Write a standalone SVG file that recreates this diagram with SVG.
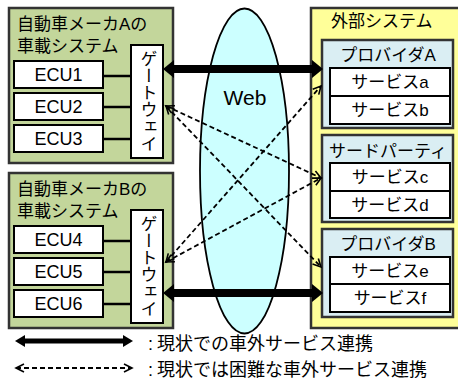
<svg xmlns="http://www.w3.org/2000/svg" width="458" height="381" viewBox="0 0 458 381">
<defs>
<style>
text{font-family:"Liberation Sans","Noto Sans CJK JP",sans-serif;fill:#000}
.car{fill:#c3d69b;stroke:#333;stroke-width:2.5}
.ext{fill:#ffff99;stroke:#333;stroke-width:2.5}
.prov{fill:#daeef3;stroke:#333;stroke-width:2.5}
.box{fill:#fff;stroke:#000;stroke-width:2}
.t17{font-size:17px}
.t18{font-size:18px}
.mid{text-anchor:middle}
.link{stroke:#000;stroke-width:2.5}
.thick{stroke:#000;stroke-width:8;fill:none}
.thin{stroke:#000;stroke-width:5;fill:none}
.dash{stroke:#000;stroke-width:1.8;stroke-dasharray:5,3;fill:none}
</style>
<marker id="th" markerUnits="userSpaceOnUse" markerWidth="11" markerHeight="18" refX="0" refY="9" orient="auto-start-reverse" overflow="visible">
<path d="M0,0 L11,9 L0,18 z" fill="#000"/>
</marker>
<marker id="th2" markerUnits="userSpaceOnUse" markerWidth="10" markerHeight="12" refX="0" refY="6" orient="auto-start-reverse" overflow="visible">
<path d="M0,0 L10,6 L0,12 z" fill="#000"/>
</marker>
<marker id="op" markerUnits="userSpaceOnUse" markerWidth="10" markerHeight="10" refX="8" refY="4" orient="auto-start-reverse" overflow="visible">
<path d="M0,0 L8,4 L0,8" fill="none" stroke="#000" stroke-width="1.6"/>
</marker>
</defs>

<g id="carA">
<rect class="car" x="9" y="8" width="164" height="155"/>
<text class="t17" x="17" y="30">自動車メーカAの</text>
<text class="t17" x="17" y="52">車載システム</text>
</g>
<g id="ecu1"><rect class="box" x="14" y="61" width="89" height="27"/><text class="t18 mid" x="58.5" y="81">ECU1</text></g>
<g id="ecu2"><rect class="box" x="14" y="93" width="89" height="27"/><text class="t18 mid" x="58.5" y="113">ECU2</text></g>
<g id="ecu3"><rect class="box" x="14" y="125" width="89" height="27"/><text class="t18 mid" x="58.5" y="145">ECU3</text></g>
<g id="gwA"><rect class="box" x="131" y="45" width="32" height="113"/><text class="t17" x="147" y="50" writing-mode="vertical-rl">ゲートウェイ</text></g>

<g id="carB">
<rect class="car" x="9" y="173" width="164" height="155"/>
<text class="t17" x="17" y="195">自動車メーカBの</text>
<text class="t17" x="17" y="217">車載システム</text>
</g>
<g id="ecu4"><rect class="box" x="14" y="226" width="89" height="27"/><text class="t18 mid" x="58.5" y="246">ECU4</text></g>
<g id="ecu5"><rect class="box" x="14" y="258" width="89" height="27"/><text class="t18 mid" x="58.5" y="278">ECU5</text></g>
<g id="ecu6"><rect class="box" x="14" y="290" width="89" height="27"/><text class="t18 mid" x="58.5" y="310">ECU6</text></g>
<g id="gwB"><rect class="box" x="131" y="210" width="32" height="113"/><text class="t17" x="147" y="215" writing-mode="vertical-rl">ゲートウェイ</text></g>

<g id="web">
<ellipse cx="244.5" cy="171" rx="44.5" ry="162.5" fill="#ccffff" stroke="#000" stroke-width="1.8"/>
<text x="245" y="105" class="mid" style="font-size:21px">Web</text>
</g>

<g id="external">
<rect class="ext" x="311" y="8" width="150" height="320"/>
<text class="t17" x="331" y="27">外部システム</text>
</g>
<g id="provA">
<rect class="prov" x="322" y="40" width="131" height="88"/>
<text class="t17 mid" x="388" y="61">プロバイダA</text>
<rect class="box" x="330" y="68" width="120" height="28"/><text class="t17 mid" x="390" y="88">サービスa</text>
<rect class="box" x="330" y="96" width="120" height="28"/><text class="t17 mid" x="390" y="116">サービスb</text>
</g>
<g id="third">
<rect class="prov" x="322" y="135" width="131" height="87"/>
<text class="t17 mid" x="388" y="157">サードパーティ</text>
<rect class="box" x="330" y="163" width="120" height="28"/><text class="t17 mid" x="390" y="183">サービスc</text>
<rect class="box" x="330" y="191" width="120" height="27"/><text class="t17 mid" x="390" y="211">サービスd</text>
</g>
<g id="provB">
<rect class="prov" x="322" y="229" width="131" height="88"/>
<text class="t17 mid" x="388" y="250">プロバイダB</text>
<rect class="box" x="330" y="257" width="120" height="27"/><text class="t17 mid" x="390" y="277">サービスe</text>
<rect class="box" x="330" y="284" width="120" height="28"/><text class="t17 mid" x="390" y="304">サービスf</text>
</g>

<g id="connectors">
<line class="link" x1="103" y1="76" x2="131" y2="76"/>
<line class="link" x1="103" y1="107" x2="131" y2="107"/>
<line class="link" x1="103" y1="139" x2="131" y2="139"/>
<line class="link" x1="103" y1="241" x2="131" y2="241"/>
<line class="link" x1="103" y1="272" x2="131" y2="272"/>
<line class="link" x1="103" y1="304" x2="131" y2="304"/>
<line class="thick" x1="174" y1="69" x2="312" y2="69" marker-start="url(#th)" marker-end="url(#th)"/>
<line class="thick" x1="174" y1="293" x2="312" y2="293" marker-start="url(#th)" marker-end="url(#th)"/>
<line class="dash" x1="166" y1="106" x2="321" y2="178" marker-start="url(#op)" marker-end="url(#op)"/>
<line class="dash" x1="166" y1="106" x2="321" y2="267" marker-start="url(#op)" marker-end="url(#op)"/>
<line class="dash" x1="166" y1="262" x2="321" y2="86" marker-start="url(#op)" marker-end="url(#op)"/>
<line class="dash" x1="166" y1="262" x2="321" y2="178" marker-start="url(#op)" marker-end="url(#op)"/>
</g>

<g id="legend">
<line class="thin" x1="25" y1="341" x2="123" y2="341" marker-start="url(#th2)" marker-end="url(#th2)"/>
<text class="t18" x="148" y="350">:<tspan x="157">現状での車外サービス連携</tspan></text>
<line class="dash" x1="16" y1="368" x2="132" y2="368" marker-start="url(#op)" marker-end="url(#op)"/>
<text class="t18" x="148" y="376">:<tspan x="157">現状では困難な車外サービス連携</tspan></text>
</g>
</svg>
